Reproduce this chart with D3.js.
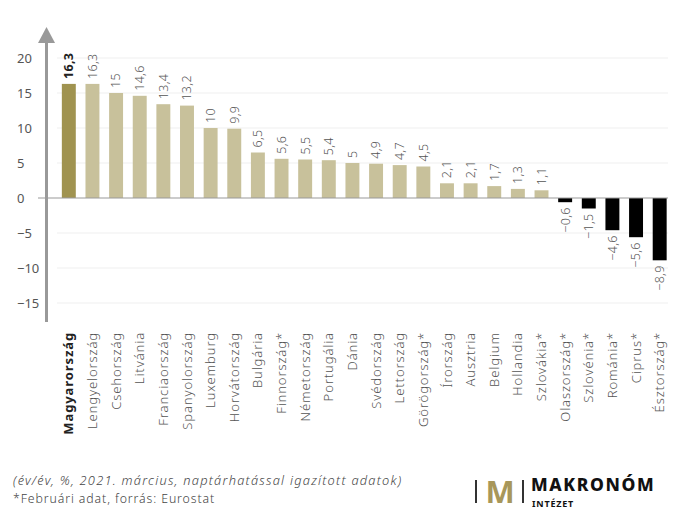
<!DOCTYPE html>
<html>
<head>
<meta charset="utf-8">
<script src="https://cdn.jsdelivr.net/npm/d3@7"></script>
<style>
  body { margin: 0; background: #fff; }
  svg { font-family: "Noto Sans", sans-serif; }
</style>
</head>
<body>
<svg width="699" height="522"></svg>
<script>
const countries = ["Magyarország", "Lengyelország", "Csehország", "Litvánia", "Franciaország",
  "Spanyolország", "Luxemburg", "Horvátország", "Bulgária", "Finnország*", "Németország",
  "Portugália", "Dánia", "Svédország", "Lettország", "Görögország*", "Írország", "Ausztria",
  "Belgium", "Hollandia", "Szlovákia*", "Olaszország*", "Szlovénia*", "Románia*", "Ciprus*",
  "Észtország*"];
const values = [16.3, 16.3, 15, 14.6, 13.4, 13.2, 10, 9.9, 6.5, 5.6, 5.5, 5.4, 5, 4.9, 4.7, 4.5,
  2.1, 2.1, 1.7, 1.3, 1.1, -0.6, -1.5, -4.6, -5.6, -8.9];
const yTicks = [20, 15, 10, 5, 0, -5, -10, -15];
const notes = ["(év/év, %, 2021. március, naptárhatással igazított adatok)",
  "*Februári adat, forrás: Eurostat"];

const svg = d3.select("svg");
const data = countries.map((c, i) => ({ c, v: values[i] }));

const x = d3.scaleBand()
  .domain(countries)
  .range([57, 671.5])
  .paddingInner(0.41)
  .paddingOuter(0.205);

const y = d3.scaleLinear()
  .domain([-15, 20])
  .range([303, 58]);

const fmt = v => String(v).replace(".", ",").replace("-", "−");

// gridlines
svg.append("g")
  .selectAll("line")
  .data(yTicks.filter(t => t !== 0))
  .join("line")
  .attr("x1", 57).attr("x2", 668)
  .attr("y1", d => y(d)).attr("y2", d => y(d))
  .attr("stroke", "#efefef");

// tick labels
svg.append("g")
  .selectAll("text")
  .data(yTicks)
  .join("text")
  .attr("x", 17)
  .attr("y", d => y(d))
  .attr("dy", "0.35em")
  .attr("font-size", 13)
  .attr("fill", "#555")
  .text(d => String(d).replace("-", "−"));

// bars
svg.append("g")
  .selectAll("rect")
  .data(data)
  .join("rect")
  .attr("x", d => x(d.c))
  .attr("width", x.bandwidth())
  .attr("y", d => y(Math.max(0, d.v)))
  .attr("height", d => Math.abs(y(d.v) - y(0)))
  .attr("fill", (d, i) => i === 0 ? "#a09350" : d.v < 0 ? "#000" : "#c8c19b");

// value labels
svg.append("g")
  .selectAll("text")
  .data(data)
  .join("text")
  .attr("transform", d => `translate(${x(d.c) + x.bandwidth() / 2},${d.v >= 0 ? y(d.v) - 5 : y(d.v) + 5}) rotate(-90)`)
  .attr("dy", "0.35em")
  .attr("text-anchor", d => d.v >= 0 ? "start" : "end")
  .attr("font-size", 12.5)
  .attr("letter-spacing", 0.3)
  .attr("font-weight", (d, i) => i === 0 ? 700 : 300)
  .attr("fill", (d, i) => i === 0 ? "#222" : "#555")
  .text(d => fmt(d.v));

// category labels
svg.append("g")
  .selectAll("text")
  .data(data)
  .join("text")
  .attr("transform", d => `translate(${x(d.c) + x.bandwidth() / 2},332) rotate(-90)`)
  .attr("dy", "0.35em")
  .attr("text-anchor", "end")
  .attr("font-size", 13)
  .attr("letter-spacing", 0.9)
  .attr("font-weight", (d, i) => i === 0 ? 700 : 300)
  .attr("fill", (d, i) => i === 0 ? "#222" : "#555")
  .text(d => d.c);

// zero line
svg.append("line")
  .attr("x1", 38).attr("x2", 668)
  .attr("y1", y(0)).attr("y2", y(0))
  .attr("stroke", "#999").attr("stroke-width", 1.2);

// y axis with arrow
svg.append("line")
  .attr("x1", 46.5).attr("x2", 46.5)
  .attr("y1", 322).attr("y2", 40)
  .attr("stroke", "#999").attr("stroke-width", 3);
svg.append("path")
  .attr("d", "M38,43 L46.5,27 L55,43 Z")
  .attr("fill", "#999");

// notes
svg.append("g")
  .selectAll("text")
  .data(notes)
  .join("text")
  .attr("x", 13)
  .attr("y", (d, i) => 485 + i * 18)
  .attr("font-size", (d, i) => i === 0 ? 12.8 : 12.3)
  .attr("letter-spacing", (d, i) => i === 0 ? 1.25 : 0.9)
  .attr("font-style", (d, i) => i === 0 ? "italic" : "normal")
  .attr("font-weight", 300)
  .attr("fill", "#444")
  .text(d => d);

// logo
const logo = svg.append("g");
logo.append("rect").attr("x", 475).attr("y", 480).attr("width", 2).attr("height", 23).attr("fill", "#333");
logo.append("rect").attr("x", 522).attr("y", 480).attr("width", 2).attr("height", 23).attr("fill", "#333");
logo.append("text").attr("x", 500).attr("y", 503).attr("text-anchor", "middle")
  .attr("font-size", 31).attr("font-weight", 700).attr("fill", "#a8975a").text("M");
logo.append("text").attr("x", 531).attr("y", 491)
  .attr("font-size", 17.5).attr("font-weight", 800).attr("letter-spacing", 1.6)
  .attr("fill", "#111").text("MAKRONÓM");
logo.append("text").attr("x", 532).attr("y", 507)
  .attr("font-size", 9).attr("font-weight", 700).attr("letter-spacing", 0.8)
  .attr("fill", "#111").text("INTÉZET");
</script>
</body>
</html>
